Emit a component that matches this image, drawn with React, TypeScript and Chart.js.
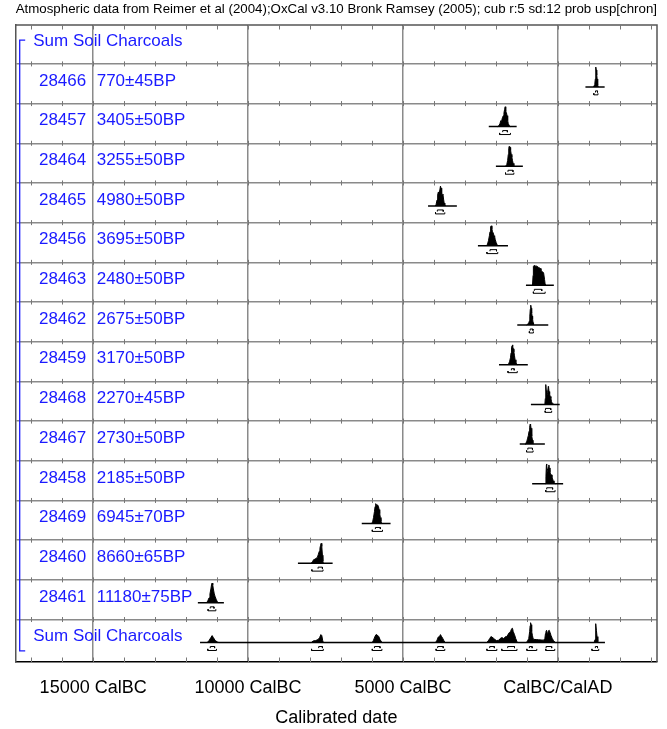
import React, { useEffect, useRef } from "react";
import { Chart, registerables } from "chart.js";
Chart.register(...registerables);

const FONT = '"Liberation Sans", Arial, Helvetica, sans-serif';
const BLUE = "#1a1aff";

const TITLE =
  "Atmospheric data from Reimer et al (2004);OxCal v3.10 Bronk Ramsey (2005); cub r:5 sd:12 prob usp[chron]";
const groupName = "Sum Soil Charcoals";
const xAxisTitle = "Calibrated date";

const labIds = ["28466", "28457", "28464", "28465", "28456", "28463", "28462", "28459", "28468", "28467", "28458", "28469", "28460", "28461"];
const bpDates = ["770±45BP", "3405±50BP", "3255±50BP", "4980±50BP", "3695±50BP", "2480±50BP", "2675±50BP", "3170±50BP", "2270±45BP", "2730±50BP", "2185±50BP", "6945±70BP", "8660±65BP", "11180±75BP"];

const tickYears = [-15000, -10000, -5000, 0];
const tickLabels = ["15000 CalBC", "10000 CalBC", "5000 CalBC", "CalBC/CalAD"];

// [calendar year (negative = BC), relative probability]
const p28466 = [[1150, 0], [1175, 0.08], [1195, 0.2], [1210, 0.4], [1220, 0.75], [1228, 1.0], [1240, 0.85], [1255, 0.6], [1268, 0.4], [1280, 0.22], [1292, 0.08], [1310, 0]];
const p28457 = [[-1940, 0], [-1900, 0.05], [-1870, 0.15], [-1840, 0.3], [-1820, 0.25], [-1790, 0.45], [-1760, 0.55], [-1740, 0.7], [-1720, 0.85], [-1700, 1.0], [-1690, 0.9], [-1675, 0.75], [-1660, 0.7], [-1640, 0.55], [-1620, 0.3], [-1600, 0.15], [-1570, 0.05], [-1530, 0]];
const p28464 = [[-1690, 0], [-1650, 0.08], [-1620, 0.3], [-1600, 0.6], [-1585, 0.9], [-1570, 1.0], [-1555, 0.85], [-1540, 0.95], [-1525, 0.8], [-1505, 0.6], [-1485, 0.45], [-1465, 0.3], [-1445, 0.15], [-1420, 0.05], [-1390, 0]];
const p28465 = [[-3960, 0], [-3930, 0.08], [-3900, 0.3], [-3880, 0.55], [-3860, 0.7], [-3840, 0.65], [-3810, 0.8], [-3790, 1.0], [-3770, 0.9], [-3750, 0.6], [-3730, 0.55], [-3710, 0.6], [-3690, 0.35], [-3670, 0.15], [-3650, 0.05], [-3620, 0]];
const p28456 = [[-2300, 0], [-2270, 0.08], [-2240, 0.25], [-2210, 0.5], [-2190, 0.7], [-2170, 0.95], [-2150, 1.0], [-2130, 0.85], [-2110, 0.7], [-2090, 0.65], [-2060, 0.5], [-2040, 0.45], [-2020, 0.3], [-1990, 0.15], [-1960, 0.05], [-1930, 0]];
const p28463 = [[-820, 0], [-800, 0.5], [-790, 0.95], [-770, 1.0], [-740, 0.97], [-710, 0.95], [-680, 0.98], [-650, 0.93], [-620, 0.9], [-590, 0.88], [-560, 0.85], [-545, 0.7], [-520, 0.7], [-490, 0.68], [-460, 0.62], [-430, 0.3], [-410, 0.05], [-400, 0]];
const p28462 = [[-1010, 0], [-970, 0.05], [-940, 0.1], [-920, 0.2], [-905, 0.45], [-890, 0.8], [-875, 1.0], [-860, 0.85], [-845, 0.6], [-830, 0.45], [-815, 0.3], [-800, 0.12], [-785, 0.03], [-770, 0]];
const p28459 = [[-1620, 0], [-1590, 0.05], [-1560, 0.15], [-1530, 0.35], [-1510, 0.6], [-1495, 0.85], [-1480, 0.95], [-1465, 1.0], [-1450, 0.9], [-1435, 0.8], [-1420, 0.65], [-1400, 0.45], [-1380, 0.25], [-1355, 0.1], [-1330, 0.03], [-1300, 0]];
const p28468 = [[-420, 0], [-405, 0.3], [-395, 0.9], [-385, 1.0], [-375, 0.7], [-365, 0.55], [-355, 0.65], [-345, 0.5], [-330, 0.6], [-310, 0.9], [-300, 0.85], [-285, 0.65], [-265, 0.5], [-245, 0.4], [-225, 0.3], [-205, 0.15], [-180, 0.05], [-160, 0]];
const p28467 = [[-1060, 0], [-1030, 0.05], [-1000, 0.15], [-975, 0.3], [-950, 0.45], [-930, 0.65], [-910, 0.85], [-895, 1.0], [-880, 0.95], [-865, 0.8], [-850, 0.6], [-835, 0.4], [-820, 0.2], [-805, 0.06], [-790, 0]];
const p28458 = [[-400, 0], [-385, 0.35], [-370, 0.95], [-360, 1.0], [-350, 0.6], [-335, 0.75], [-320, 0.7], [-305, 0.85], [-290, 0.95], [-275, 0.8], [-255, 0.6], [-235, 0.5], [-210, 0.45], [-190, 0.35], [-170, 0.25], [-150, 0.15], [-125, 0.08], [-100, 0.03], [-80, 0]];
const p28469 = [[-6010, 0], [-5980, 0.08], [-5950, 0.3], [-5920, 0.6], [-5900, 0.85], [-5880, 1.0], [-5860, 0.95], [-5840, 0.9], [-5810, 0.92], [-5790, 0.85], [-5770, 0.7], [-5750, 0.5], [-5730, 0.3], [-5710, 0.12], [-5690, 0.04], [-5660, 0]];
const p28460 = [[-7960, 0], [-7920, 0.08], [-7880, 0.18], [-7840, 0.2], [-7800, 0.25], [-7760, 0.3], [-7730, 0.45], [-7700, 0.6], [-7680, 0.75], [-7660, 0.9], [-7640, 1.0], [-7620, 0.85], [-7600, 0.4], [-7585, 0.1], [-7570, 0]];
const p28461 = [[-11340, 0], [-11300, 0.1], [-11260, 0.25], [-11230, 0.45], [-11200, 0.7], [-11180, 0.9], [-11160, 1.0], [-11140, 0.9], [-11120, 0.7], [-11090, 0.45], [-11060, 0.3], [-11030, 0.18], [-11000, 0.08], [-10970, 0.03], [-10940, 0]];
const pSum = [
  [-11320, 0], [-11260, 0.1], [-11200, 0.25], [-11160, 0.35], [-11120, 0.25], [-11060, 0.1], [-10980, 0.02], [-10940, 0],
  [-7960, 0], [-7900, 0.08], [-7820, 0.1], [-7740, 0.15], [-7690, 0.25], [-7650, 0.4], [-7620, 0.35], [-7590, 0.1], [-7570, 0],
  [-5990, 0], [-5950, 0.12], [-5900, 0.32], [-5870, 0.4], [-5830, 0.38], [-5780, 0.3], [-5740, 0.15], [-5690, 0.03], [-5660, 0],
  [-3950, 0], [-3900, 0.12], [-3860, 0.28], [-3820, 0.3], [-3790, 0.4], [-3760, 0.32], [-3720, 0.22], [-3680, 0.1], [-3640, 0],
  [-2300, 0], [-2250, 0.08], [-2200, 0.2], [-2160, 0.3], [-2130, 0.28], [-2080, 0.22], [-2030, 0.15], [-1980, 0.1],
  [-1900, 0.12], [-1850, 0.22], [-1800, 0.25], [-1760, 0.2], [-1720, 0.25], [-1680, 0.3], [-1650, 0.3], [-1610, 0.4], [-1570, 0.5], [-1530, 0.55], [-1490, 0.7], [-1465, 0.72], [-1440, 0.55], [-1400, 0.4], [-1360, 0.2], [-1320, 0.05], [-1290, 0],
  [-1020, 0], [-980, 0.08], [-940, 0.2], [-910, 0.55], [-895, 0.85], [-880, 1.0], [-865, 0.9], [-845, 0.55], [-820, 0.35], [-800, 0.2], [-770, 0.16], [-700, 0.15], [-620, 0.14], [-540, 0.13], [-460, 0.12], [-420, 0.2], [-400, 0.45], [-385, 0.55], [-365, 0.62], [-340, 0.45], [-320, 0.5], [-300, 0.6], [-280, 0.62], [-250, 0.5], [-220, 0.35], [-180, 0.2], [-140, 0.1], [-100, 0.03], [-80, 0],
  [1170, 0], [1200, 0.15], [1215, 0.4], [1228, 0.95], [1245, 0.6], [1265, 0.3], [1290, 0.08], [1310, 0],
];

// plotted range of each distribution's base line (rows: 14 samples then the sum)
const baselineFrom = [890, -2230, -2000, -4190, -2580, -1030, -1310, -1900, -870, -1230, -830, -6330, -8390, -11620, -11550];
const baselineTo = [1510, -1330, -1130, -3260, -1610, -130, -310, -970, 60, -420, 170, -5400, -7270, -10780, 1520];

const ranges68 = [
  [[1215, 1280]], [[-1780, -1630]], [[-1610, -1450]], [[-3890, -3700]], [[-2190, -1980]], [[-760, -520]], [[-895, -805]],
  [[-1500, -1410]], [[-400, -230]], [[-970, -820]], [[-360, -170]], [[-5890, -5730]], [[-7740, -7600]], [[-11220, -11100]],
  [[-11220, -11080], [-7720, -7600], [-5920, -5740], [-3880, -3700], [-2200, -2050], [-1620, -1400], [-920, -830], [-380, -200], [1210, 1280]],
];
const ranges95 = [
  [[1160, 1295]], [[-1880, -1530]], [[-1690, -1420]], [[-3950, -3650]], [[-2290, -1940]], [[-790, -410]], [[-920, -790]],
  [[-1610, -1310]], [[-410, -200]], [[-1010, -800]], [[-390, -90]], [[-5990, -5660]], [[-7940, -7580]], [[-11290, -11040]],
  [[-11300, -11020], [-7950, -7570], [-5990, -5680], [-3930, -3650], [-2290, -1970], [-1810, -1320], [-1000, -680], [-390, -100], [1100, 1320]],
];

const distributions = [p28466, p28457, p28464, p28465, p28456, p28463, p28462, p28459, p28468, p28467, p28458, p28469, p28460, p28461, pSum];

const X_MIN = -17500;
const X_MAX = 3200;
const Y_MIN = -0.98;
const Y_MAX = 15.07;
const BASE_OFF = 0.58;
const PEAK = 0.5;
const LABEL_OFF = 0.43;

function buildDatasets() {
  const ds: any[] = [];
  distributions.forEach((dist, i) => {
    const base = i + BASE_OFF;
    ds.push({
      data: dist.map(([yr, p]) => ({ x: yr, y: base - p * PEAK })),
      borderColor: "#000",
      backgroundColor: "#000",
      borderWidth: 1,
      fill: { value: base },
      pointRadius: 0,
      tension: 0,
    });
    ds.push({
      data: [{ x: baselineFrom[i], y: base }, { x: baselineTo[i], y: base }],
      borderColor: "#000",
      borderWidth: 1.5,
      fill: false,
      pointRadius: 0,
    });
    const addBrackets = (ranges: number[][], off: number, tick: number) => {
      ranges.forEach(([a, b]) => {
        ds.push({
          data: [
            { x: a, y: base + off + tick },
            { x: a, y: base + off },
            { x: b, y: base + off },
            { x: b, y: base + off + tick },
          ],
          borderColor: "#000",
          borderWidth: 1,
          fill: false,
          pointRadius: 0,
        });
      });
    };
    addBrackets(ranges68[i], 0.1, 0.04);
    addBrackets(ranges95[i], 0.2, -0.04);
  });
  return ds;
}

const overlay = {
  id: "overlay",
  afterDraw(chart: any) {
    const { ctx, chartArea: a } = chart;
    const x = chart.scales.x;
    const y = chart.scales.y;
    ctx.save();
    // frame top & right
    ctx.strokeStyle = "#555";
    ctx.lineWidth = 1.5;
    ctx.beginPath();
    ctx.moveTo(a.left, a.top);
    ctx.lineTo(a.right, a.top);
    ctx.lineTo(a.right, a.bottom);
    ctx.stroke();
    // minor ticks every 1000 years
    ctx.strokeStyle = "#777";
    ctx.lineWidth = 1;
    ctx.beginPath();
    for (let yr = -17000; yr <= 3000; yr += 1000) {
      const px = Math.round(x.getPixelForValue(yr)) + 0.5;
      ctx.moveTo(px, a.top);
      ctx.lineTo(px, a.top + 4.5);
      for (let k = 0; k <= 14; k++) {
        const py = y.getPixelForValue(k);
        ctx.moveTo(px, py - 2.5);
        ctx.lineTo(px, py + 2.5);
      }
      ctx.moveTo(px, a.bottom);
      ctx.lineTo(px, a.bottom - 4.5);
    }
    ctx.stroke();
    // labels
    ctx.fillStyle = BLUE;
    ctx.font = `17px ${FONT}`;
    ctx.textBaseline = "middle";
    ctx.textAlign = "left";
    ctx.fillText(groupName, a.left + 17.5, y.getPixelForValue(-1 + LABEL_OFF));
    ctx.fillText(groupName, a.left + 17.5, y.getPixelForValue(14 + LABEL_OFF));
    labIds.forEach((id, i) => {
      const py = y.getPixelForValue(i + LABEL_OFF);
      ctx.textAlign = "right";
      ctx.fillText(id, a.left + 70.5, py);
      ctx.textAlign = "left";
      ctx.fillText(bpDates[i], a.left + 81, py);
    });
    // group bracket
    ctx.strokeStyle = BLUE;
    ctx.lineWidth = 1.3;
    const bx = a.left + 4;
    const t = y.getPixelForValue(-0.6);
    const b = y.getPixelForValue(14.79);
    ctx.beginPath();
    ctx.moveTo(bx + 5.5, t);
    ctx.lineTo(bx, t);
    ctx.lineTo(bx, b);
    ctx.lineTo(bx + 5.5, b);
    ctx.stroke();
    ctx.restore();
  },
};

export default function App() {
  const ref = useRef<HTMLCanvasElement>(null);
  useEffect(() => {
    if (!ref.current) return;
    const chart = new Chart(ref.current, {
      type: "line",
      data: { datasets: buildDatasets() },
      options: {
        responsive: false,
        animation: false,
        events: [],
        layout: { padding: { left: 15.7, right: 10, top: 0, bottom: 0 } },
        plugins: {
          legend: { display: false },
          tooltip: { enabled: false },
          title: {
            display: true,
            text: TITLE,
            color: "#000",
            font: { family: FONT, size: 13.5, weight: "normal" },
            padding: { top: 1.5, bottom: 7.3 },
          },
        },
        scales: {
          x: {
            type: "linear",
            min: X_MIN,
            max: X_MAX,
            afterBuildTicks: (s: any) => {
              s.ticks = tickYears.map((v) => ({ value: v }));
            },
            afterFit: (s: any) => {
              s.height = 67;
            },
            ticks: {
              color: "#000",
              font: { family: FONT, size: 18 },
              padding: 15.5,
              maxRotation: 0,
              autoSkip: false,
              callback: (v: any) => tickLabels[tickYears.indexOf(v)] ?? "",
            },
            grid: { color: "#8a8a8a", lineWidth: 1.5, drawTicks: false },
            border: { color: "#000", width: 1.5 },
            title: {
              display: true,
              text: xAxisTitle,
              color: "#000",
              font: { family: FONT, size: 18 },
              padding: { top: 0, bottom: 0 },
            },
          },
          y: {
            type: "linear",
            reverse: true,
            min: Y_MIN,
            max: Y_MAX,
            afterBuildTicks: (s: any) => {
              s.ticks = labIds.concat(["sum"]).map((_, k) => ({ value: k }));
            },
            afterFit: (s: any) => {
              s.width = 0;
            },
            ticks: { display: false },
            grid: { color: "#8a8a8a", lineWidth: 1.5, drawTicks: false },
            border: { color: "#555", width: 1.5 },
          },
        },
      } as any,
      plugins: [overlay],
    });
    return () => chart.destroy();
  }, []);
  return (
    <div style={{ position: "absolute", left: 0, top: 0, width: 667, height: 729, background: "#fff" }}>
      <canvas ref={ref} width={667} height={729} style={{ display: "block" }} />
    </div>
  );
}
